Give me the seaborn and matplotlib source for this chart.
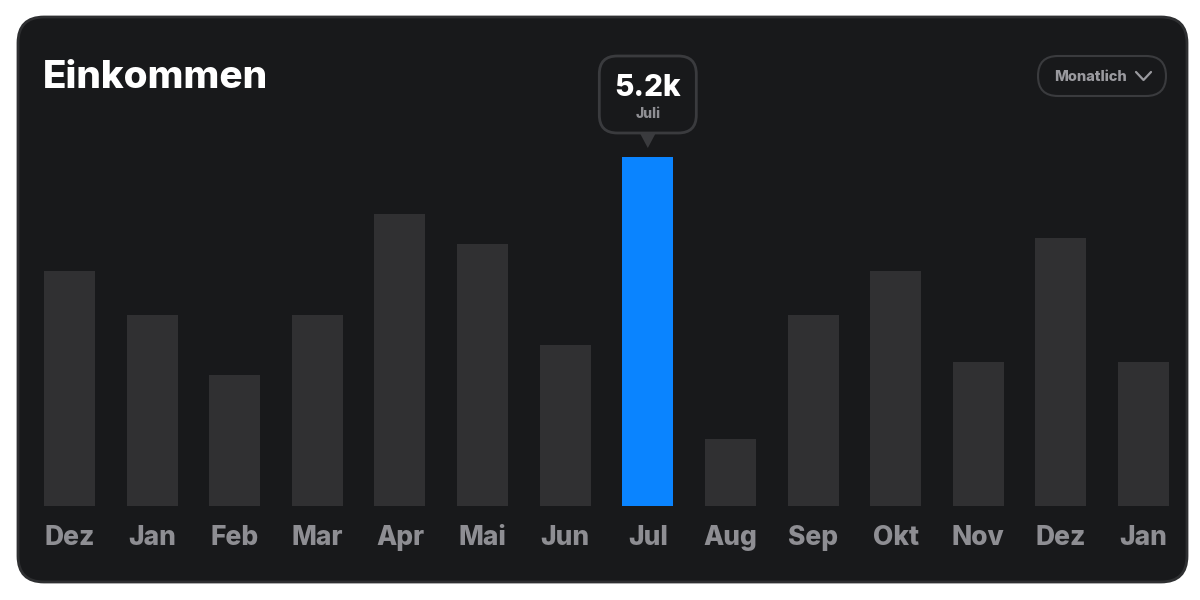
import matplotlib
matplotlib.use("Agg")
import matplotlib.pyplot as plt
import seaborn as sns
import pandas as pd
from matplotlib.patches import FancyBboxPatch, Polygon

# ---- data ----
months = ["Dez", "Jan", "Feb", "Mar", "Apr", "Mai", "Jun", "Jul", "Aug", "Sep", "Okt", "Nov", "Dez", "Jan"]
income_k = [3.5, 2.85, 1.95, 2.85, 4.35, 3.9, 2.4, 5.2, 1.0, 2.85, 3.5, 2.15, 4.0, 2.15]
highlight_index = 7
highlight_label = "Juli"
title = "Einkommen"
dropdown_label = "Monatlich"

BG = "#18191b"
BAR = "#303032"
BLUE = "#0a84ff"
BORDER = "#2e2f31"
PILL = "#3a3b3e"
GREY = "#8e8e93"

sns.set_theme(style="white")
plt.rcParams["font.family"] = ["Inter", "DejaVu Sans"]

W, H = 1200, 600
fig = plt.figure(figsize=(12, 6), dpi=100, facecolor="white")

# background axes in pixel coordinates
bg = fig.add_axes([0, 0, 1, 1], zorder=0)
bg.set_xlim(0, W)
bg.set_ylim(H, 0)
bg.axis("off")
bg.add_patch(FancyBboxPatch((18, 17), 1169, 565, boxstyle="round,pad=0,rounding_size=26",
                            fc=BG, ec=BORDER, lw=2))
bg.text(43, 78, title, color="white", fontsize=27.8, fontweight="heavy", va="center", ha="left")

# dropdown pill
bg.add_patch(FancyBboxPatch((1038, 56), 128, 40, boxstyle="round,pad=0,rounding_size=20",
                            fc=BG, ec=PILL, lw=1.5))
bg.text(1054, 77, dropdown_label, color="#9a9a9f", fontsize=10.5, fontweight="heavy", va="center", ha="left")
bg.plot([1136, 1143.5, 1151], [72, 80, 72], color="#9a9a9f", lw=1.6, solid_capstyle="round")

# bar axes
bottom_px, top_px, left_px, right_px = 506, 157, 44, 1169
ax = fig.add_axes([left_px / W, 1 - bottom_px / H, (right_px - left_px) / W, (bottom_px - top_px) / H], zorder=1)
ax.patch.set_alpha(0)
df = pd.DataFrame({"pos": list(range(len(months))), "value": income_k})
colors = [BLUE if i == highlight_index else BAR for i in range(len(months))]
bw = 0.617
sns.barplot(data=df, x="pos", y="value", hue="pos", palette=colors, legend=False,
            width=bw, saturation=1, ax=ax, linewidth=0)
half = (len(months) - 1 + bw) / 2
ax.set_xlim((len(months) - 1) / 2 - half, (len(months) - 1) / 2 + half)
ax.set_ylim(0, max(income_k))
ax.set_xticks(range(len(months)))
ax.set_xticklabels(months, color=GREY, fontsize=19, fontweight="heavy")
ax.tick_params(axis="x", length=0, pad=13.5)
ax.set_yticks([])
ax.set_xlabel("")
ax.set_ylabel("")
sns.despine(ax=ax, left=True, bottom=True)

# tooltip anchored to the highlighted bar
disp = ax.transData.transform((highlight_index, income_k[highlight_index]))
cx = disp[0] * W / fig.bbox.width
ty = H - disp[1] * H / fig.bbox.height
bw_px, bh_px = 97, 77
box_bottom = ty - 24
bg.add_patch(FancyBboxPatch((cx - bw_px / 2, box_bottom - bh_px), bw_px, bh_px,
                            boxstyle="round,pad=0,rounding_size=18", fc=BG, ec=PILL, lw=2))
bg.add_patch(Polygon([(cx - 8, box_bottom), (cx + 8, box_bottom), (cx, box_bottom + 15)],
                     closed=True, fc=PILL, ec="none"))
bg.text(cx, box_bottom - 45, f"{income_k[highlight_index]:.1f}k", color="white", fontsize=21.5,
        fontweight="heavy", ha="center", va="center")
bg.text(cx, box_bottom - 18.5, highlight_label, color=GREY, fontsize=10, fontweight="heavy",
        ha="center", va="center")

fig.savefig("out.png", dpi=100, facecolor="white")
